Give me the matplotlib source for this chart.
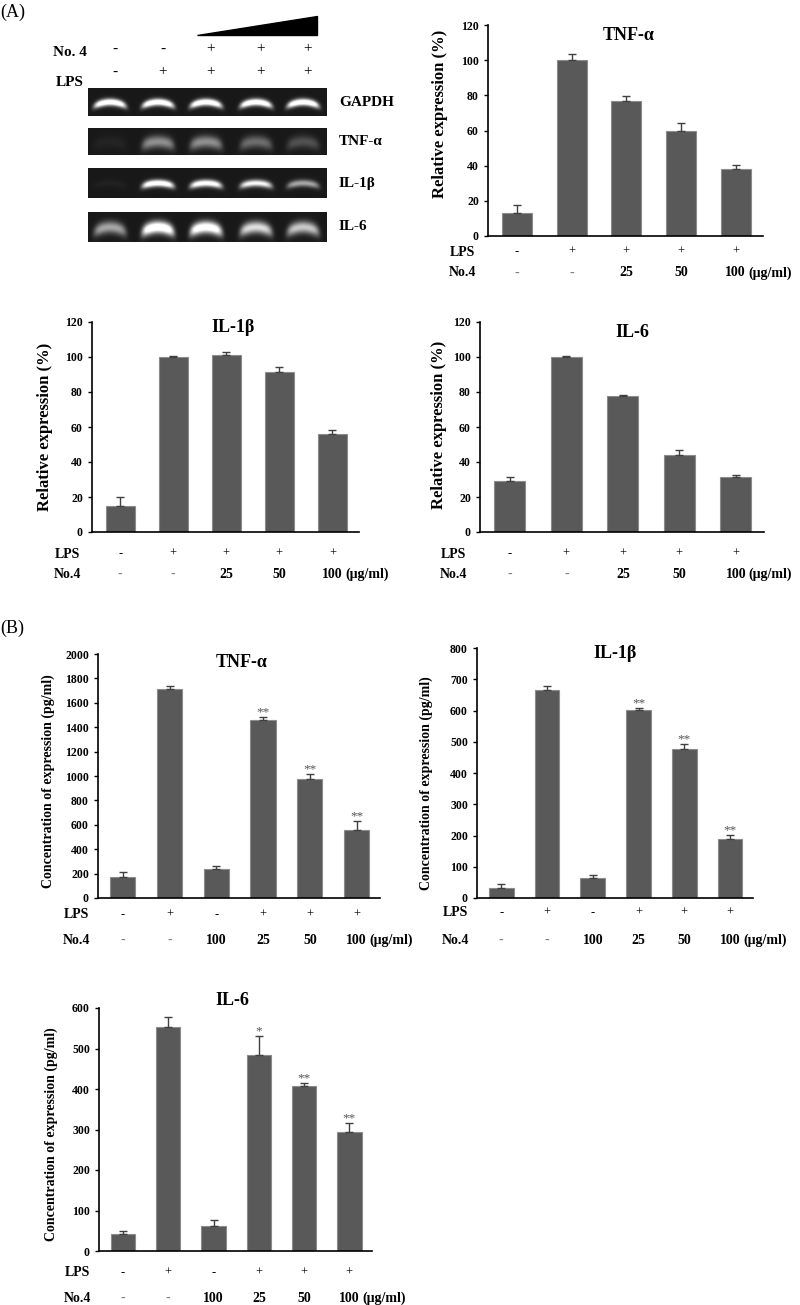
import numpy as np
import matplotlib.pyplot as plt

plt.rcParams['font.family'] = ['Liberation Serif', 'DejaVu Serif']
plt.rcParams['font.weight'] = 'bold'

W, H = 800, 1305

# ---- gel (A) ----
gel_no4 = ['-', '-', '+', '+', '+']
gel_lps = ['-', '+', '+', '+', '+']
gel_genes = ['GAPDH', 'TNF-α', 'IL-1β', 'IL-6']
band_gapdh = [1.0, 1.0, 1.0, 1.0, 1.0]
band_tnf = [0.04, 0.42, 0.42, 0.3, 0.2]
band_il1b = [0.03, 0.95, 0.9, 0.8, 0.5]
band_il6 = [0.5, 1.0, 0.95, 0.7, 0.62]

# ---- RT-PCR quantification (A) ----
a_lps = ['-', '+', '+', '+', '+']
a_no4 = ['-', '-', '25', '50', '100']
a_tnf = [13, 100, 77, 60, 38]
a_tnf_err = [4.5, 3.5, 2.5, 4, 2.5]
a_il1b = [15, 100, 101, 91.5, 56]
a_il1b_err = [5, 0.7, 2, 2.5, 2]
a_il6 = [29, 100, 77.5, 44, 31.5]
a_il6_err = [2.5, 0.5, 1, 3, 1]

# ---- ELISA (B) ----
b_lps = ['-', '+', '-', '+', '+', '+']
b_no4 = ['-', '-', '100', '25', '50', '100']
b_tnf = [175, 1715, 240, 1455, 975, 555]
b_tnf_err = [35, 25, 25, 30, 45, 75]
b_tnf_sig = ['', '', '', '**', '**', '**']
b_il1b = [32, 665, 65, 603, 476, 188]
b_il1b_err = [13, 12, 10, 5, 18, 14]
b_il1b_sig = ['', '', '', '**', '**', '**']
b_il6 = [42, 553, 62, 483, 408, 293]
b_il6_err = [7, 25, 15, 47, 7, 22]
b_il6_sig = ['', '', '', '*', '**', '**']

fig = plt.figure(figsize=(W / 100, H / 100), dpi=100)


def rect(x0, x1, y0, y1):
    return [x0 / W, 1 - y1 / H, (x1 - x0) / W, (y1 - y0) / H]


def ftext(x, y, s, **kw):
    fig.text(x / W, 1 - y / H, s, **kw)


# gel image rows
gel_x0, gel_x1 = 88, 327
lane_x = [110, 158, 206, 256, 303]


def gel_row(y0, y1, intens, thick, curve):
    ax = fig.add_axes(rect(gel_x0, gel_x1, y0, y1))
    h = y1 - y0
    w = gel_x1 - gel_x0
    yy, xx = np.mgrid[0:h * 4, 0:w * 4] / 4.0
    img = np.full(yy.shape, 0.09)
    for cx, v in zip(lane_x, intens):
        dx = (xx - (cx - gel_x0)) / 16.0
        yc = h * 0.5 + curve * dx ** 2
        img += v * np.exp(-dx ** 6) * np.exp(-((yy - yc) / thick) ** 2)
    ax.imshow(np.clip(img, 0, 1), cmap='gray', vmin=0, vmax=0.9,
              aspect='auto', extent=[0, w, h, 0])
    ax.set_xticks([])
    ax.set_yticks([])
    for s in ax.spines.values():
        s.set_visible(False)


gel_rows = [(88, 116), (128, 155), (168, 198), (212, 242)]
gel_bands = [band_gapdh, band_tnf, band_il1b, band_il6]
gel_thick = [3.5, 6, 3.5, 6]
gel_curve = [4, 4, 3, 5]
for (y0, y1), b, t, c, g in zip(gel_rows, gel_bands, gel_thick, gel_curve, gel_genes):
    gel_row(y0, y1, b, t, c)
    ftext(339, (y0 + y1) / 2, g, fontsize=11, va='center', ha='left')

ftext(0, 12, '(A)', fontsize=13, weight='normal', va='center', ha='left')
ftext(70, 53, 'No. 4', fontsize=11, va='center', ha='center')
ftext(70, 82, 'LPS', fontsize=11, va='center', ha='center')
for cx, s1, s2 in zip(lane_x, gel_no4, gel_lps):
    ftext(cx + 5, 49, s1, fontsize=11, weight='normal', va='center', ha='center')
    ftext(cx + 5, 72, s2, fontsize=11, weight='normal', va='center', ha='center')
fig.patches.append(plt.Polygon([(197 / W, 1 - 35 / H), (317 / W, 1 - 35 / H),
                                (317 / W, 1 - 16 / H)], closed=True,
                               transform=fig.transFigure, color='black'))


def bar_chart(box, vals, errs, ytop, ystep, title, title_xy, ylabel, label_xy,
              lps, no4, offs, width, sig=None, unit_dx=13, ylab_size=10):
    ax = fig.add_axes(rect(*box))
    x = np.arange(len(vals))
    ax.bar(x, vals, width=width, color='#595959', edgecolor='#8c8c8c', linewidth=0.8)
    ax.errorbar(x, vals, yerr=[np.zeros(len(errs)), errs], fmt='none',
                ecolor='#404040', elinewidth=1, capsize=3, capthick=1)
    ax.set_ylim(0, ytop)
    ax.set_xlim(-0.53, len(vals) - 0.5)
    ax.set_yticks(np.arange(0, ytop + 1, ystep))
    ax.tick_params(axis='y', labelsize=8.5, length=3, width=1)
    ax.tick_params(axis='x', bottom=False, labelbottom=False)
    for lab in ax.get_yticklabels():
        lab.set_fontweight('bold')
    for s in ['top', 'right']:
        ax.spines[s].set_visible(False)
    for s in ['left', 'bottom']:
        ax.spines[s].set_linewidth(1.2)
    ax.text(title_xy[0], title_xy[1], title, transform=ax.transAxes,
            fontsize=13, ha='center', va='center')
    ax.set_ylabel(ylabel, fontsize=ylab_size, fontweight='bold')
    ax.yaxis.set_label_coords(*label_xy)
    lps_off, no4_off = offs
    tr = ax.get_xaxis_transform()
    ax.annotate('LPS', (-1.0, 0), xycoords=tr, xytext=(0, -lps_off * 0.72),
                textcoords='offset points', ha='center', va='center',
                fontsize=10, annotation_clip=False)
    ax.annotate('No.4', (-1.0, 0), xycoords=tr, xytext=(0, -no4_off * 0.72),
                textcoords='offset points', ha='center', va='center',
                fontsize=10, annotation_clip=False)
    for i in x:
        ax.annotate(lps[i], (i, 0), xycoords=tr, xytext=(0, -lps_off * 0.72),
                    textcoords='offset points', ha='center', va='center',
                    fontsize=9, weight='normal', annotation_clip=False)
        c = '#808080' if no4[i] == '-' else 'black'
        ax.annotate(no4[i], (i, 0), xycoords=tr, xytext=(0, -no4_off * 0.72),
                    textcoords='offset points', ha='center', va='center',
                    fontsize=10, color=c,
                    weight='normal' if no4[i] == '-' else 'bold',
                    annotation_clip=False)
    ax.annotate('(μg/ml)', (x[-1], 0), xycoords=tr,
                xytext=(unit_dx * 0.72, -no4_off * 0.72),
                textcoords='offset points', ha='left', va='center',
                fontsize=10, annotation_clip=False)
    if sig:
        for i, s in enumerate(sig):
            if s:
                ax.annotate(s, (i, vals[i] + errs[i]), xytext=(0, -1),
                            textcoords='offset points', ha='center',
                            va='bottom', fontsize=9.5, color='#555555',
                            weight='normal')
    return ax


rel = 'Relative expression (%)'
conc = 'Concentration of expression (pg/ml)'

bar_chart((488, 763, 25, 236), a_tnf, a_tnf_err, 120, 20, 'TNF-α', (0.51, 0.95),
          rel, (-0.145, 0.58), a_lps, a_no4, (16, 37), 0.55, ylab_size=12)
bar_chart((92, 359, 322, 532), a_il1b, a_il1b_err, 120, 20, 'IL-1β', (0.53, 0.975),
          rel, (-0.146, 0.5), a_lps, a_no4, (22, 42), 0.55, ylab_size=12)
bar_chart((480, 764, 322, 532), a_il6, a_il6_err, 120, 20, 'IL-6', (0.535, 0.95),
          rel, (-0.116, 0.51), a_lps, a_no4, (22, 42), 0.55, ylab_size=12)

ftext(0, 628, '(B)', fontsize=13, weight='normal', va='center', ha='left')
bar_chart((98, 380, 654, 898), b_tnf, b_tnf_err, 2000, 200, 'TNF-α', (0.51, 0.967),
          conc, (-0.152, 0.48), b_lps, b_no4, (17, 42), 0.54, b_tnf_sig)
bar_chart((477, 753, 648, 898), b_il1b, b_il1b_err, 800, 100, 'IL-1β', (0.5, 0.98),
          conc, (-0.16, 0.46), b_lps, b_no4, (15, 42), 0.54, b_il1b_sig)
bar_chart((99, 372, 1008, 1251), b_il6, b_il6_err, 600, 100, 'IL-6', (0.49, 1.03),
          conc, (-0.15, 0.48), b_lps, b_no4, (22, 47), 0.54, b_il6_sig)

fig.savefig('out.png', dpi=100)
